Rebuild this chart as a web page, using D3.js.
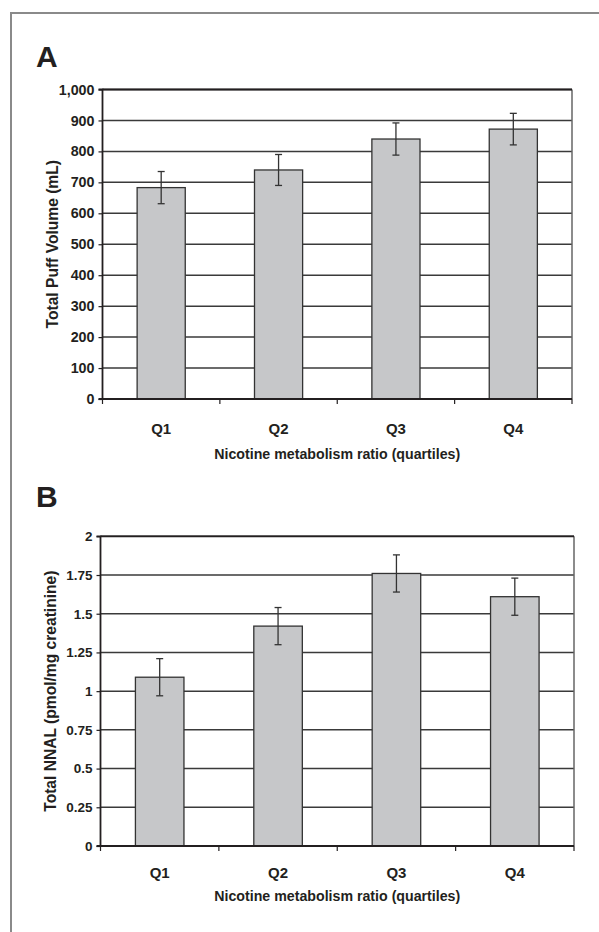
<!DOCTYPE html>
<html>
<head>
<meta charset="utf-8">
<script src="https://cdn.jsdelivr.net/npm/d3@7"></script>
<style>
html,body{margin:0;padding:0;background:#fff;}
svg{display:block;font-family:"Liberation Sans",Arial,Helvetica,sans-serif;}
</style>
</head>
<body>
<svg id="chart" width="599" height="932"></svg>
<script>
const categories = ["Q1","Q2","Q3","Q4"];
const puffValues = [683, 740, 840, 872];
const puffErrors = [52, 50, 52, 51];
const puffTicks = [0,100,200,300,400,500,600,700,800,900,1000];
const nnalValues = [1.09, 1.42, 1.76, 1.61];
const nnalErrors = [0.12, 0.12, 0.12, 0.12];
const nnalTicks = [0,0.25,0.5,0.75,1,1.25,1.5,1.75,2];

const svg = d3.select("#chart");

// outer frame
svg.append("path")
  .attr("d","M11,932 V13 H599")
  .attr("fill","none").attr("stroke","#8a8a8a").attr("stroke-width",2);

function panel(opts){
  const {letter, letterY, x0, x1, yTop, yBot, max, ticks, fmt, values, errors, ylabel, ylabelX, qY, titleY, tickFont} = opts;
  const g = svg.append("g");
  const x = d3.scaleBand().domain(categories).range([x0,x1]).paddingInner(0).paddingOuter(0);
  const y = d3.scaleLinear().domain([0,max]).range([yBot,yTop]);

  g.append("text").attr("x",36).attr("y",letterY).text(letter)
    .attr("font-size",30).attr("font-weight","bold").attr("fill","#231f20");

  // gridlines
  g.selectAll("line.grid").data(ticks.filter(t=>t>0)).join("line")
    .attr("x1",x0).attr("x2",x1).attr("y1",d=>y(d)).attr("y2",d=>y(d))
    .attr("stroke","#3a3a3a").attr("stroke-width",1.5);

  // right border
  g.append("line").attr("x1",x1).attr("x2",x1).attr("y1",yTop).attr("y2",yBot)
    .attr("stroke","#666").attr("stroke-width",1.5);

  // bars
  g.selectAll("rect.bar").data(values).join("rect")
    .attr("x",(d,i)=>x(categories[i])+x.bandwidth()*0.295)
    .attr("width",x.bandwidth()*0.41)
    .attr("y",d=>y(d)).attr("height",d=>yBot-y(d))
    .attr("fill","#c6c7c9").attr("stroke","#333").attr("stroke-width",1.3);

  // error bars
  values.forEach((v,i)=>{
    const cx = x(categories[i]) + x.bandwidth()/2;
    const t = y(v+errors[i]), b = y(v-errors[i]);
    g.append("line").attr("x1",cx).attr("x2",cx).attr("y1",t).attr("y2",b).attr("stroke","#333").attr("stroke-width",1.3);
    g.append("line").attr("x1",cx-3.5).attr("x2",cx+3.5).attr("y1",t).attr("y2",t).attr("stroke","#333").attr("stroke-width",1.3);
    g.append("line").attr("x1",cx-3.5).attr("x2",cx+3.5).attr("y1",b).attr("y2",b).attr("stroke","#333").attr("stroke-width",1.3);
  });

  // y axis
  const ya = g.append("g").attr("transform",`translate(${x0},0)`)
    .call(d3.axisLeft(y).tickValues(ticks).tickFormat(fmt).tickSize(4).tickPadding(4));
  ya.select(".domain").attr("stroke","#231f20").attr("stroke-width",1.8).attr("d",`M-4,${yTop}H0V${yBot}H-4`);
  ya.selectAll(".tick line").attr("stroke","#231f20").attr("stroke-width",1.2);
  ya.selectAll(".tick text").attr("font-size",tickFont).attr("font-weight","bold").attr("fill","#231f20")
    .attr("font-family","'Liberation Sans',Arial,sans-serif");

  // top border
  g.append("line").attr("x1",x0).attr("x2",x1).attr("y1",yTop).attr("y2",yTop)
    .attr("stroke","#231f20").attr("stroke-width",1.8);

  // x axis
  const bounds = categories.map(c=>x(c)).concat([x1]);
  g.append("line").attr("x1",x0).attr("x2",x1).attr("y1",yBot).attr("y2",yBot)
    .attr("stroke","#231f20").attr("stroke-width",1.8);
  g.selectAll("line.xt").data(bounds).join("line")
    .attr("x1",d=>d).attr("x2",d=>d).attr("y1",yBot).attr("y2",yBot+5)
    .attr("stroke","#231f20").attr("stroke-width",1.2);
  g.selectAll("text.q").data(categories).join("text")
    .attr("x",d=>x(d)+x.bandwidth()/2).attr("y",qY).attr("text-anchor","middle")
    .attr("font-size",15).attr("font-weight","bold").attr("fill","#231f20").text(d=>d);

  g.append("text").attr("x",(x0+x1)/2-0).attr("y",titleY).attr("text-anchor","middle")
    .attr("font-size",14.2).attr("font-weight","bold").attr("fill","#231f20")
    .text("Nicotine metabolism ratio (quartiles)");

  g.append("text").attr("transform",`translate(${ylabelX},${(yTop+yBot)/2}) rotate(-90)`)
    .attr("text-anchor","middle").attr("font-size",15.6).attr("font-weight","bold").attr("fill","#231f20")
    .text(ylabel);
}

panel({letter:"A", letterY:67, x0:102.5, x1:572, yTop:89.5, yBot:399, max:1000, ticks:puffTicks,
  fmt:d3.format(","), values:puffValues, errors:puffErrors, ylabel:"Total Puff Volume (mL)",
  ylabelX:58, qY:434, titleY:459, tickFont:14.3});

panel({letter:"B", letterY:507, x0:100.5, x1:574, yTop:536.3, yBot:846, max:2, ticks:nnalTicks,
  fmt:d=>String(d), values:nnalValues, errors:nnalErrors, ylabel:"Total NNAL (pmol/mg creatinine)",
  ylabelX:56, qY:878, titleY:901, tickFont:13.5});
</script>
</body>
</html>
